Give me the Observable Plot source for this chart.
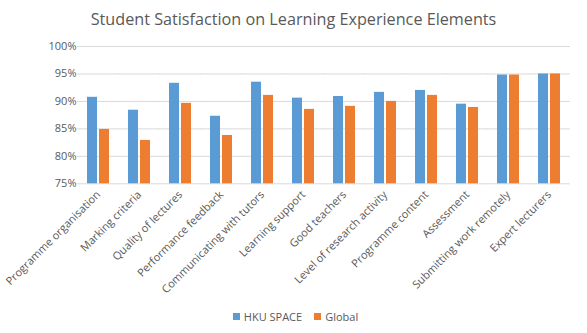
<!DOCTYPE html>
<html>
<head>
<meta charset="utf-8">
<script src="https://cdn.jsdelivr.net/npm/d3@7"></script>
<script src="https://cdn.jsdelivr.net/npm/@observablehq/plot@0.6"></script>
<style>
  html, body { margin: 0; padding: 0; background: #fff; }
  body { width: 587px; height: 333px; overflow: hidden; font-family: "Open Sans", sans-serif; color: #595959; }
  #title { height: 36px; line-height: 38px; text-align: center; font-size: 16.2px; color: #595959; }
  #legend { display: flex; justify-content: center; align-items: center; height: 33px; font-size: 11px; color: #595959; padding-left: 4px; }
  .sw { display: inline-block; width: 7px; height: 7px; margin-right: 4px; }
  .item { display: flex; align-items: center; margin: 0 6px; }
  svg { display: block; }
</style>
</head>
<body>
<div id="title">Student Satisfaction on Learning Experience Elements</div>
<div id="chart"></div>
<div id="legend"></div>
<script>
const categories = [
  "Programme organisation", "Marking criteria", "Quality of lectures", "Performance feedback",
  "Communicating with tutors", "Learning support", "Good teachers", "Level of research activity",
  "Programme content", "Assessment", "Submitting work remotely", "Expert lecturers"
];
const seriesNames = ["HKU SPACE", "Global"];
const hkuSpace = [0.9075, 0.884, 0.933, 0.873, 0.935, 0.906, 0.909, 0.9165, 0.920, 0.895, 0.948, 0.950];
const global   = [0.849, 0.829, 0.8965, 0.838, 0.911, 0.8855, 0.891, 0.900, 0.911, 0.889, 0.948, 0.950];
const yTicks = [0.75, 0.80, 0.85, 0.90, 0.95, 1.00];
const colors = ["#5B9BD5", "#ED7D31"];

const data = [];
categories.forEach((c, i) => {
  data.push({category: c, series: seriesNames[0], value: hkuSpace[i]});
  data.push({category: c, series: seriesNames[1], value: global[i]});
});
const yBase = yTicks[0];

const W = 587, ML = 73, MR = 13;
const pInner = 0.473, pOuter = pInner / 2;
const step = (W - ML - MR) / categories.length;
const ext = pOuter * step; // extend grid rules across the gaps between facets

const chart = Plot.plot({
  width: W,
  height: 264,
  marginLeft: ML,
  marginRight: MR,
  marginTop: 10,
  marginBottom: 116.7,
  style: {fontFamily: "Open Sans, sans-serif", fontSize: "11px", color: "#595959", background: "#fff"},
  fx: {domain: categories, paddingInner: pInner, paddingOuter: pOuter, label: null, tickSize: 0, tickRotate: -45, tickPadding: 9},
  x: {domain: seriesNames, axis: null, paddingInner: 1/6, paddingOuter: 0},
  y: {domain: [yTicks[0], yTicks[yTicks.length - 1]], ticks: yTicks, tickFormat: d3.format(".0%"), tickSize: 0, tickPadding: 11, label: null},
  color: {domain: seriesNames, range: colors},
  marks: [
    Plot.ruleY(yTicks, {stroke: "#d9d9d9", strokeWidth: 1, insetLeft: -ext, insetRight: -ext}),
    Plot.barY(data, {fx: "category", x: "series", y1: yBase, y2: "value", fill: "series"})
  ]
});
document.getElementById("chart").appendChild(chart);

const legend = document.getElementById("legend");
seriesNames.forEach((s, i) => {
  const item = document.createElement("span");
  item.className = "item";
  const sw = document.createElement("span");
  sw.className = "sw";
  sw.style.background = colors[i];
  item.appendChild(sw);
  item.appendChild(document.createTextNode(s));
  legend.appendChild(item);
});
</script>
</body>
</html>
